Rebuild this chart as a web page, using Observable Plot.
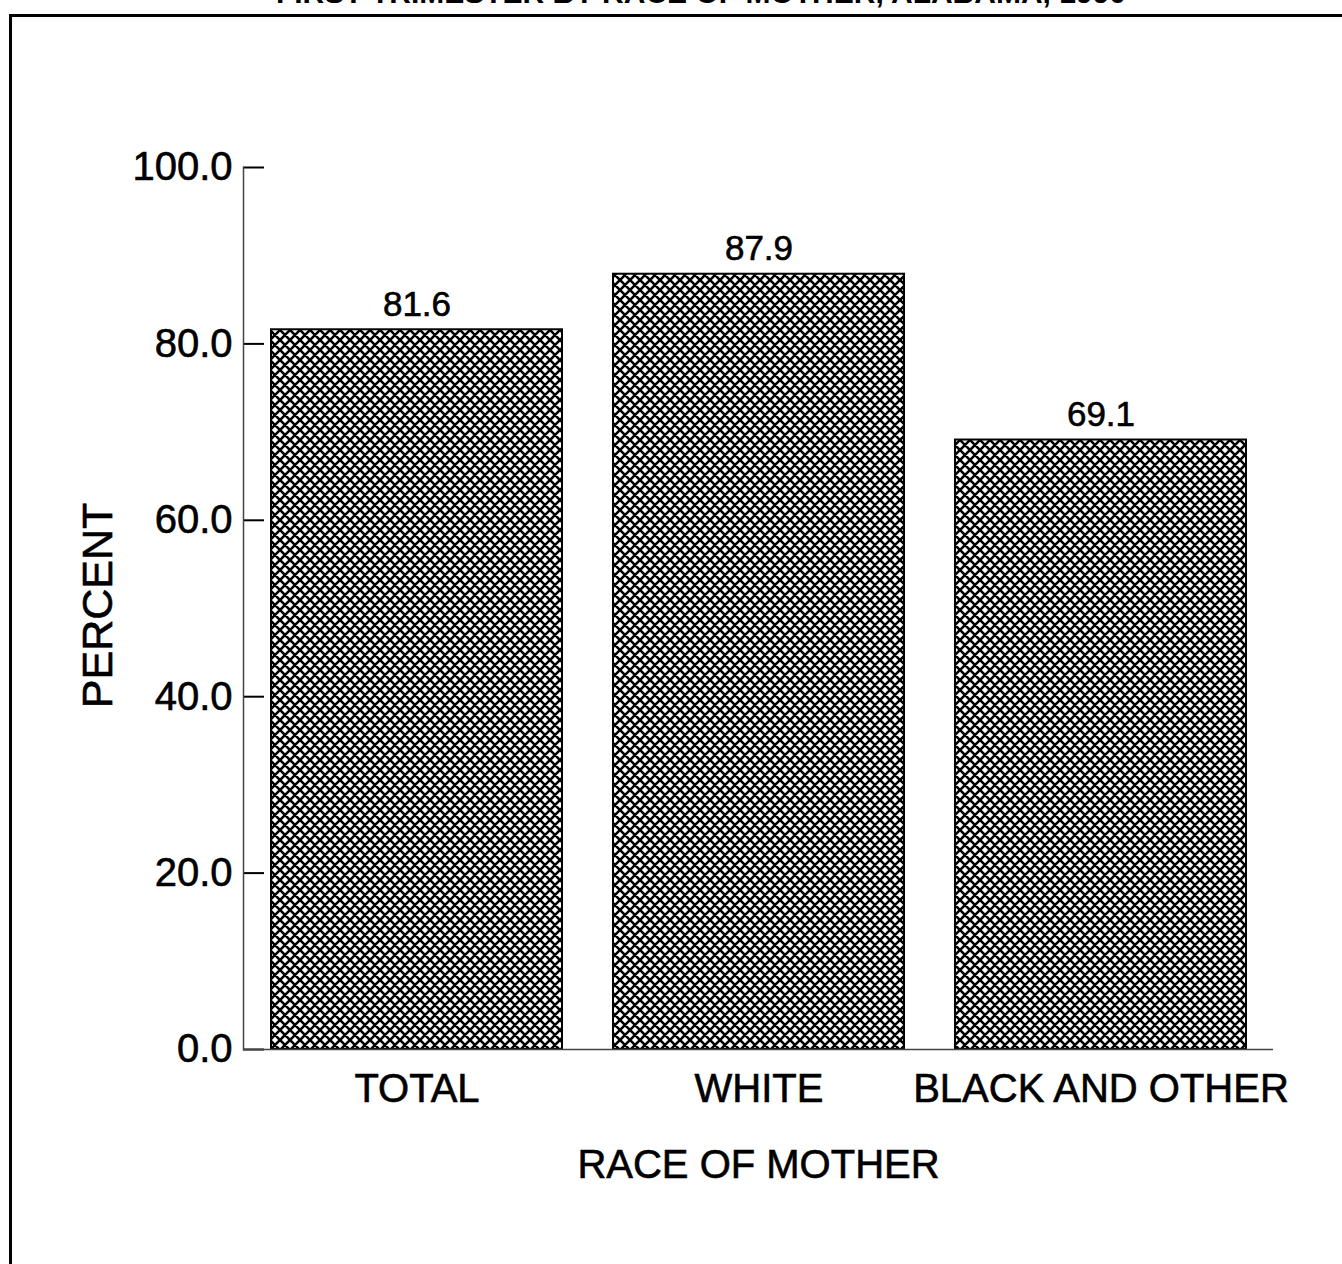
<!DOCTYPE html>
<html>
<head>
<meta charset="utf-8">
<script src="https://cdn.jsdelivr.net/npm/d3@7"></script>
<script src="https://cdn.jsdelivr.net/npm/@observablehq/plot@0.6"></script>
<style>
  html, body { margin: 0; padding: 0; background: #fff; width: 1342px; height: 1264px; overflow: hidden; }
  body { position: relative; font-family: "Liberation Sans", Arial, Helvetica, sans-serif; }
  #border { position: absolute; left: 9px; top: 14px; width: 2000px; height: 2000px;
            border-left: 3px solid #000; border-top: 3px solid #000; }
  #title { position: absolute; left: 60px; top: -27px; width: 1282px; text-align: center;
           font-size: 30px; line-height: 40px; font-weight: bold; color: #000; white-space: nowrap; }
  #chart { position: absolute; left: 0; top: 0; }
  #chart svg text { stroke: #000; stroke-width: 0.6px; }
</style>
</head>
<body>
<div id="border"></div>
<div id="title">FIRST TRIMESTER BY RACE OF MOTHER, ALABAMA, 1990</div>
<div id="chart"></div>
<script>
// Data
const categories = ["TOTAL", "WHITE", "BLACK AND OTHER"];
const percents = [81.6, 87.9, 69.1];
const yTicks = [0, 20, 40, 60, 80, 100];
const xLabel = "RACE OF MOTHER";
const yLabel = "PERCENT";

const data = categories.map((c, i) => ({race: c, pct: percents[i]}));
const fmt = d3.format(".1f");

const chart = Plot.plot({
  width: 1342,
  height: 1264,
  marginTop: 167,
  marginBottom: 215,
  marginLeft: 243,
  marginRight: 69,
  style: {fontFamily: '"Liberation Sans", Arial, Helvetica, sans-serif', fontSize: "40px", background: "none", color: "#000"},
  x: {domain: categories, paddingInner: 0.15, paddingOuter: 0.08},
  y: {domain: [0, 100]},
  marks: [
    Plot.barY(data, {x: "race", y: "pct", fill: "url(#hatch)", stroke: "#000", strokeWidth: 2}),
    Plot.text(data, {x: "race", y: "pct", text: d => fmt(d.pct), lineAnchor: "bottom", dy: -14, fontSize: 35, fill: "#000"}),
    Plot.ruleY(yTicks, {insetRight: 1030 - 21, stroke: "#000", strokeWidth: 2}),
    Plot.frame({anchor: "left", stroke: "#444", strokeWidth: 1.5}),
    Plot.ruleY([0], {stroke: "#444", strokeWidth: 1.5}),
    Plot.axisY({ticks: yTicks, tickFormat: fmt, tickSize: 0, tickPadding: 11, fontSize: 40,
                label: null}),
    Plot.text([yLabel], {frameAnchor: "left", rotate: -90, dx: -145, dy: -3, textAnchor: "middle", text: d => d, fontSize: 43, fill: "#000"}),
    Plot.axisX({tickSize: 0, tickPadding: 24, fontSize: 40,
                label: xLabel, labelAnchor: "center", labelOffset: 128, labelArrow: "none"})
  ]
});

const defs = d3.create("svg:defs");
const pat = defs.append("pattern")
  .attr("id", "hatch")
  .attr("patternUnits", "userSpaceOnUse")
  .attr("width", 10).attr("height", 10);
pat.append("rect").attr("width", 10).attr("height", 10).attr("fill", "#fff");
pat.append("path").attr("d", "M-2,-2L12,12M12,-2L-2,12M-2,2L2,-2M8,12L12,8M8,-2L12,2M-2,8L2,12")
  .attr("stroke", "#000").attr("stroke-width", 2.6).attr("fill", "none");
chart.insertBefore(defs.node(), chart.firstChild);

document.getElementById("chart").appendChild(chart);
</script>
</body>
</html>
